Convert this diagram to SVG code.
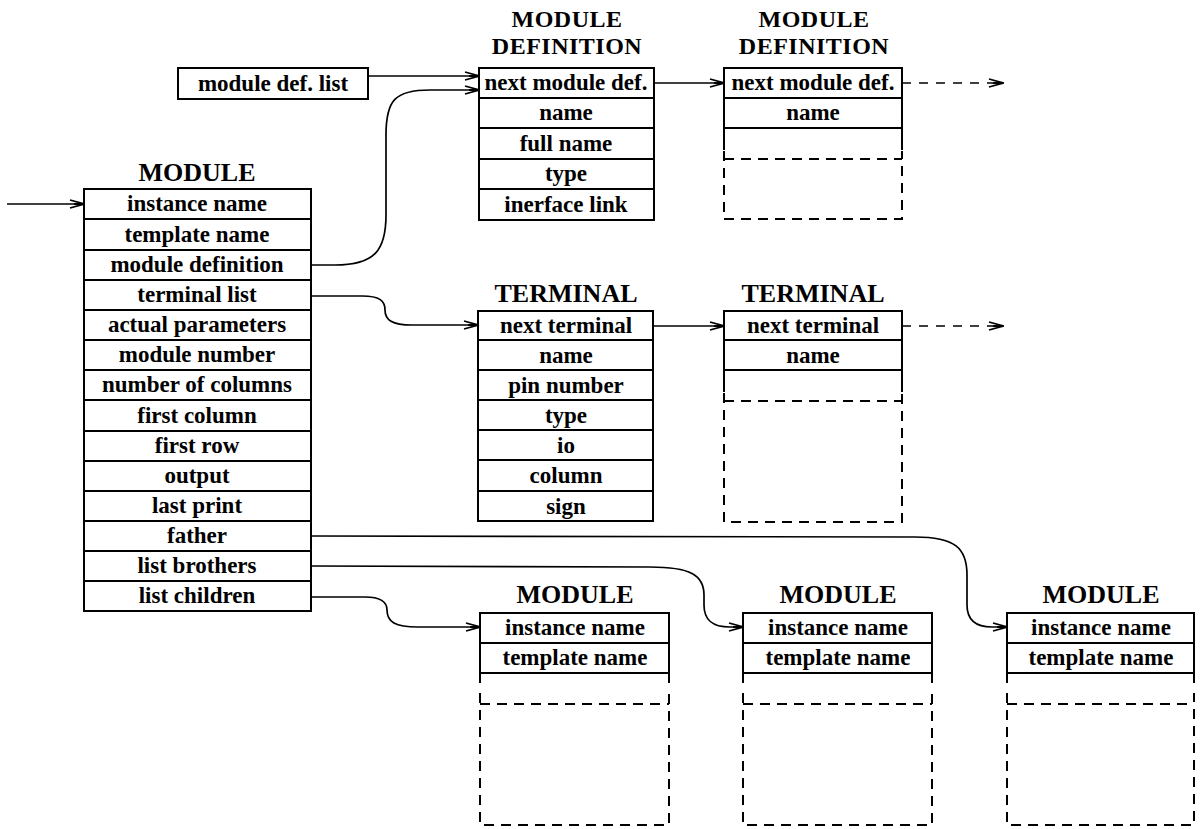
<svg xmlns="http://www.w3.org/2000/svg" width="1204" height="829" viewBox="0 0 1204 829">
<style>
.bx{fill:none;stroke:#000;stroke-width:2}
.ln{fill:none;stroke:#000;stroke-width:2}
.ds{fill:none;stroke:#000;stroke-width:2;stroke-dasharray:10 7}
.cn{fill:none;stroke:#000;stroke-width:1.7}
.cd{fill:none;stroke:#000;stroke-width:1.7;stroke-dasharray:9 8}
.t{font-family:"Liberation Serif","Times New Roman",serif;font-weight:bold;font-size:23px;text-anchor:middle;fill:#000}
.h{font-family:"Liberation Serif","Times New Roman",serif;font-weight:bold;font-size:26px;text-anchor:middle;fill:#000}
.h2{font-family:"Liberation Serif","Times New Roman",serif;font-weight:bold;font-size:24px;letter-spacing:0.5px;text-anchor:middle;fill:#000}
</style>
<defs>
<marker id="ah" viewBox="0 0 16 10" refX="15" refY="5" markerWidth="16" markerHeight="10" orient="auto" markerUnits="userSpaceOnUse">
<path d="M1,1 L15,5 L1,9 M5,5 L15,5" fill="none" stroke="#000" stroke-width="1.8"/>
</marker>
</defs>
<rect width="1204" height="829" fill="#fff"/>

<g id="connectors">
<path class="cn" d="M7,204 L84,204" marker-end="url(#ah)"/>
<path class="cn" d="M368,76 L479,76" marker-end="url(#ah)"/>
<path class="cn" d="M311,265 L335,265 C375,265 386,250 386,215 L386,135 C386,100 395,90 430,90 L479,90" marker-end="url(#ah)"/>
<path class="cn" d="M311,296 L362,296 C380,296 385,301 385,310 C385,320 392,325 412,325 L478,325" marker-end="url(#ah)"/>
<path class="cn" d="M654,83 L724,83" marker-end="url(#ah)"/>
<path class="cd" d="M902,83 L1003,83" marker-end="url(#ah)"/>
<path class="cn" d="M653,326 L724,326" marker-end="url(#ah)"/>
<path class="cd" d="M902,326 L1003,326" marker-end="url(#ah)"/>
<path class="cn" d="M311,536 L915,537 C955,537 967,548 967,575 L967,605 C967,620 975,627 992,627 L1007,627" marker-end="url(#ah)"/>
<path class="cn" d="M311,566 L650,567 C690,567 704,575 704,595 L704,605 C704,620 712,627 730,627 L743,627" marker-end="url(#ah)"/>
<path class="cn" d="M311,597 L365,597 C382,597 387,603 387,610 C387,622 395,627 418,627 L480,627" marker-end="url(#ah)"/>
</g>

<g id="module-def-list">
<rect class="bx" x="178" y="68" width="190" height="31"/>
<text class="t" x="273" y="91">module def. list</text>
</g>

<g id="module-main">
<text class="h" x="197" y="181">MODULE</text>
<rect class="bx" x="84" y="189" width="227" height="422"/>
<path class="ln" d="M84,219H311M84,250H311M84,280H311M84,310H311M84,340H311M84,370H311M84,400H311M84,431H311M84,461H311M84,491H311M84,521H311M84,551H311M84,581H311"/>
<text class="t" x="197" y="211">instance name</text>
<text class="t" x="197" y="242">template name</text>
<text class="t" x="197" y="272">module definition</text>
<text class="t" x="197" y="302">terminal list</text>
<text class="t" x="197" y="332">actual parameters</text>
<text class="t" x="197" y="362">module number</text>
<text class="t" x="197" y="392">number of columns</text>
<text class="t" x="197" y="423">first column</text>
<text class="t" x="197" y="453">first row</text>
<text class="t" x="197" y="483">output</text>
<text class="t" x="197" y="513">last print</text>
<text class="t" x="197" y="543">father</text>
<text class="t" x="197" y="573">list brothers</text>
<text class="t" x="197" y="603">list children</text>
</g>

<g id="module-definition-1">
<text class="h2" x="567" y="27">MODULE</text>
<text class="h2" x="567" y="54">DEFINITION</text>
<rect class="bx" x="479" y="68" width="175" height="152"/>
<path class="ln" d="M479,98H654M479,128H654M479,159H654M479,189H654"/>
<text class="t" x="566" y="90">next module def.</text>
<text class="t" x="566" y="120">name</text>
<text class="t" x="566" y="151">full name</text>
<text class="t" x="566" y="181">type</text>
<text class="t" x="566" y="212">inerface link</text>
</g>

<g id="module-definition-2">
<text class="h2" x="814" y="27">MODULE</text>
<text class="h2" x="814" y="54">DEFINITION</text>
<path class="ln" d="M724,150V68H902V150M724,98H902M724,128H902"/>
<path class="ds" d="M724,151V219H902V151"/>
<path class="ds" d="M724,159H902"/>
<text class="t" x="813" y="90">next module def.</text>
<text class="t" x="813" y="120">name</text>
</g>

<g id="terminal-1">
<text class="h" x="566" y="302">TERMINAL</text>
<rect class="bx" x="478" y="311" width="175" height="210"/>
<path class="ln" d="M478,340H653M478,370H653M478,400H653M478,430H653M478,460H653M478,491H653"/>
<text class="t" x="566" y="333">next terminal</text>
<text class="t" x="566" y="363">name</text>
<text class="t" x="566" y="393">pin number</text>
<text class="t" x="566" y="423">type</text>
<text class="t" x="566" y="453">io</text>
<text class="t" x="566" y="483">column</text>
<text class="t" x="566" y="514">sign</text>
</g>

<g id="terminal-2">
<text class="h" x="813" y="302">TERMINAL</text>
<path class="ln" d="M724,392V311H902V392M724,340H902M724,370H902"/>
<path class="ds" d="M724,393V522H902V393"/>
<path class="ds" d="M724,401H902"/>
<text class="t" x="813" y="333">next terminal</text>
<text class="t" x="813" y="363">name</text>
</g>

<g id="module-child-1">
<text class="h" x="575" y="603">MODULE</text>
<path class="ln" d="M480,683V613H669V683M480,643H669M480,673H669"/>
<path class="ds" d="M480,693V825H669V693"/>
<path class="ds" d="M480,704H669"/>
<text class="t" x="575" y="635">instance name</text>
<text class="t" x="575" y="665">template name</text>
</g>

<g id="module-child-2">
<text class="h" x="838" y="603">MODULE</text>
<path class="ln" d="M743,683V613H932V683M743,643H932M743,673H932"/>
<path class="ds" d="M743,693V825H932V693"/>
<path class="ds" d="M743,704H932"/>
<text class="t" x="838" y="635">instance name</text>
<text class="t" x="838" y="665">template name</text>
</g>

<g id="module-child-3">
<text class="h" x="1101" y="603">MODULE</text>
<path class="ln" d="M1007,683V613H1194V683M1007,643H1194M1007,673H1194"/>
<path class="ds" d="M1007,693V825H1194V693"/>
<path class="ds" d="M1007,704H1194"/>
<text class="t" x="1101" y="635">instance name</text>
<text class="t" x="1101" y="665">template name</text>
</g>
</svg>
